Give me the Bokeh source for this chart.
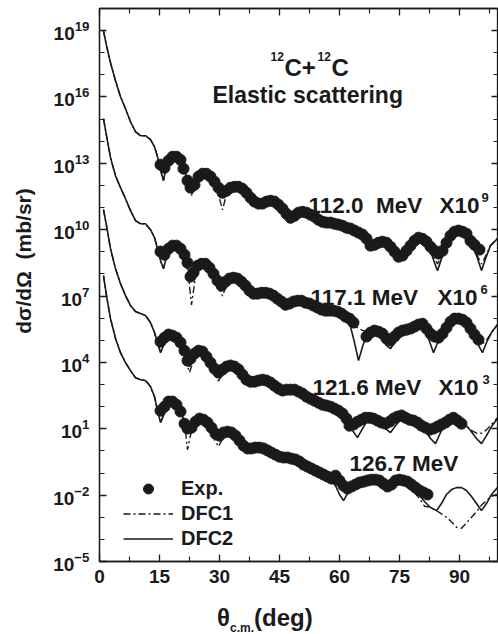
import numpy as np
from bokeh.plotting import figure
from bokeh.layouts import column, row
from bokeh.models import (FixedTicker, LinearAxis, LogAxis, Label, Legend, LegendItem,
                          CustomJSTickFormatter, Range1d, Div)
from bokeh.embed import file_html
from bokeh.resources import INLINE

# ---------------- data (theta in deg, log10 of dsigma/dOmega x scale factor) -------------
energies = ["112.0 MeV", "117.1 MeV", "121.6 MeV", "126.7 MeV"]
scale_labels = ["9", "6", "3", ""]

exp_112 = [(15.25, 12.94), (16.25, 12.8), (17.25, 13.12), (18.25, 13.3), (19.25, 13.3), (20.25, 13.16),
           (21.0, 12.76), (22.0, 12.22), (22.75, 11.9), (23.75, 12.03), (24.75, 12.4), (25.75, 12.53),
           (26.75, 12.53), (27.75, 12.4), (28.75, 12.17), (29.75, 11.9), (30.75, 11.67), (31.75, 11.76),
           (32.75, 11.9), (33.75, 11.94), (34.75, 11.94), (35.75, 11.85), (36.75, 11.67), (37.75, 11.45),
           (38.75, 11.27), (39.75, 11.18), (40.75, 11.18), (41.75, 11.27), (42.75, 11.31), (43.75, 11.27),
           (44.75, 11.13), (45.75, 10.95), (46.75, 10.72), (47.75, 10.54), (48.75, 10.63), (49.75, 10.77),
           (50.75, 10.81), (51.75, 10.77), (52.75, 10.68), (53.75, 10.59), (54.75, 10.45), (55.75, 10.36),
           (56.75, 10.32), (57.75, 10.32), (58.75, 10.27), (59.75, 10.23), (60.75, 10.18), (61.75, 10.09),
           (62.75, 10.05), (63.75, 9.96), (64.75, 9.87), (65.75, 9.78), (66.75, 9.6), (67.75, 9.28),
           (68.75, 9.32), (69.75, 9.41), (70.75, 9.46), (71.75, 9.41), (72.75, 9.23), (73.75, 9.01),
           (74.75, 8.78), (75.75, 8.83), (76.75, 9.05), (77.75, 9.28), (78.75, 9.5), (79.75, 9.64),
           (80.75, 9.59), (81.75, 9.46), (82.75, 9.23), (83.75, 9.05), (84.75, 8.92), (85.75, 9.05),
           (86.75, 9.41), (87.75, 9.73), (88.75, 9.91), (89.75, 9.96), (90.75, 9.91), (91.75, 9.82),
           (92.75, 9.5), (93.75, 9.32), (95.0, 9.1)]

exp_117 = [(15.25, 9.01), (16.25, 8.87), (17.25, 9.14), (18.25, 9.28), (19.25, 9.28), (20.25, 9.14),
           (21.25, 8.87), (22.0, 8.51), (22.75, 7.88), (23.5, 8.06), (24.5, 8.37), (25.5, 8.46),
           (26.5, 8.46), (27.5, 8.28), (28.5, 8.01), (29.5, 7.7), (30.5, 7.47), (31.5, 7.65),
           (32.5, 7.79), (33.5, 7.83), (34.5, 7.79), (35.5, 7.65), (36.5, 7.47), (37.5, 7.25),
           (38.5, 7.11), (39.5, 7.11), (40.5, 7.15), (41.5, 7.15), (42.5, 7.11), (43.5, 7.02),
           (44.5, 6.88), (45.5, 6.75), (46.5, 6.61), (47.5, 6.66), (48.5, 6.75), (49.5, 6.79),
           (50.5, 6.79), (51.5, 6.7), (52.5, 6.66), (53.5, 6.57), (54.5, 6.48), (55.5, 6.39),
           (56.5, 6.34), (57.5, 6.34), (58.5, 6.34), (59.5, 6.3), (60.5, 6.21), (61.5, 6.07),
           (62.5, 5.98), (63.5, 5.8), (66.75, 5.17), (67.75, 5.35), (68.75, 5.44), (69.75, 5.39),
           (70.75, 5.3), (71.75, 5.08), (72.75, 4.99), (73.75, 5.17), (74.75, 5.35), (75.75, 5.44),
           (76.75, 5.48), (77.75, 5.53), (78.75, 5.62), (79.75, 5.71), (80.75, 5.75), (81.75, 5.53),
           (82.75, 5.3), (83.75, 5.17), (84.75, 5.12), (85.75, 5.3), (86.75, 5.57), (87.75, 5.84),
           (88.75, 5.98), (89.75, 5.98), (90.75, 5.93), (91.75, 5.8), (92.75, 5.53), (93.75, 5.26),
           (94.75, 5.03)]

exp_121 = [(15.25, 4.94), (16.25, 5.12), (17.25, 5.26), (18.25, 5.21), (19.25, 5.12), (20.25, 4.9),
           (21.25, 4.53), (22.0, 4.08), (22.75, 4.17), (23.75, 4.4), (24.75, 4.53), (25.75, 4.49),
           (26.75, 4.26), (27.75, 3.99), (28.75, 3.72), (29.75, 3.54), (30.75, 3.68), (31.75, 3.81),
           (32.75, 3.86), (33.75, 3.81), (34.75, 3.68), (35.75, 3.45), (36.75, 3.22), (37.75, 3.13),
           (38.75, 3.13), (39.75, 3.18), (40.75, 3.22), (41.75, 3.18), (42.75, 3.09), (43.75, 2.95),
           (44.75, 2.82), (45.75, 2.73), (46.75, 2.77), (47.75, 2.77), (48.75, 2.77), (49.75, 2.68),
           (50.75, 2.59), (51.75, 2.45), (52.75, 2.36), (53.75, 2.27), (54.75, 2.18), (55.75, 2.09),
           (56.75, 2.05), (57.75, 2.0), (58.75, 1.91), (59.75, 1.82), (60.75, 1.69), (61.75, 1.46),
           (62.5, 1.14), (63.5, 1.19), (64.5, 1.32), (65.5, 1.41), (66.5, 1.5), (67.5, 1.5),
           (68.5, 1.46), (69.5, 1.37), (70.5, 1.28), (71.5, 1.23), (72.5, 1.32), (73.5, 1.46),
           (74.5, 1.55), (75.5, 1.6), (76.5, 1.5), (77.5, 1.41), (78.5, 1.37), (79.5, 1.28),
           (80.5, 1.14), (81.5, 1.05), (82.5, 0.96), (83.5, 1.01), (84.5, 1.1), (85.5, 1.19),
           (86.5, 1.28), (87.5, 1.41), (88.5, 1.5), (89.5, 1.37), (90.5, 1.23)]

exp_126 = [(15.25, 1.82), (16.25, 2.0), (17.25, 2.23), (18.25, 2.23), (19.25, 2.09), (20.25, 1.78),
           (21.25, 1.23), (22.0, 1.01), (23.0, 1.05), (24.0, 1.32), (25.0, 1.46), (26.0, 1.41),
           (27.0, 1.28), (28.0, 1.05), (29.0, 0.78), (30.0, 0.69), (31.0, 0.83), (32.0, 0.87),
           (33.0, 0.83), (34.0, 0.69), (35.0, 0.47), (36.0, 0.24), (37.0, 0.11), (38.0, 0.11),
           (39.0, 0.15), (40.0, 0.15), (41.0, 0.11), (42.0, 0.02), (43.0, -0.08), (44.0, -0.17),
           (45.0, -0.26), (46.0, -0.3), (47.0, -0.3), (48.0, -0.35), (49.0, -0.39), (50.0, -0.48),
           (51.0, -0.62), (52.0, -0.71), (53.0, -0.8), (54.0, -0.89), (55.0, -0.98), (56.0, -1.07),
           (57.0, -1.16), (58.0, -1.25), (59.0, -1.12), (60.0, -1.34), (61.0, -1.57), (62.0, -1.7),
           (63.0, -1.61), (64.0, -1.52), (65.0, -1.43), (66.0, -1.39), (67.0, -1.34), (68.0, -1.3),
           (69.0, -1.3), (70.0, -1.34), (71.0, -1.48), (72.0, -1.61), (73.0, -1.52), (74.0, -1.34),
           (75.0, -1.3), (76.0, -1.34), (77.0, -1.39), (78.0, -1.52), (79.0, -1.66), (80.0, -1.79),
           (81.0, -1.88), (82.0, -1.97)]

# theory curves: angle grid shared by DFC1 and DFC2 for each energy
th_112 = [1.0, 1.75, 2.75, 4.0, 5.25, 6.5, 7.75, 9.0, 10.25, 11.5, 12.75, 13.75, 14.5, 15.25, 16.0, 16.75,
          17.75, 19.0, 20.25, 21.25, 22.25, 23.0, 24.0, 25.25, 26.5, 27.75, 29.0, 30.0, 30.75, 31.75, 33.0,
          34.25, 35.5, 36.75, 38.0, 39.25, 40.75, 42.25, 43.75, 45.25, 46.75, 47.75, 49.25, 50.75, 52.25,
          53.75, 55.25, 56.75, 58.25, 59.75, 61.25, 62.75, 64.25, 65.75, 67.0, 67.75, 69.25, 70.75, 72.25,
          73.75, 75.25, 76.5, 77.75, 79.0, 80.25, 81.5, 82.75, 83.75, 84.5, 85.5, 86.75, 88.0, 89.25, 90.5,
          91.75, 93.0, 94.25, 95.5, 96.5, 97.75, 99.5]
dfc2_112 = [18.99, 18.32, 17.55, 16.73, 16.01, 15.47, 14.88, 14.43, 14.25, 14.25, 14.07, 13.75, 13.3, 12.67,
            12.22, 12.89, 13.26, 13.35, 13.12, 12.67, 12.13, 11.81, 12.22, 12.44, 12.58, 12.49, 12.17, 11.76,
            11.58, 11.76, 11.9, 11.94, 11.9, 11.72, 11.4, 11.18, 11.18, 11.31, 11.27, 11.04, 10.72, 10.5,
            10.68, 10.81, 10.72, 10.54, 10.41, 10.32, 10.27, 10.23, 10.14, 10.05, 9.96, 9.78, 9.6, 9.23,
            9.37, 9.46, 9.37, 9.05, 8.69, 8.96, 9.23, 9.5, 9.64, 9.46, 9.05, 8.51, 8.15, 8.69, 9.41, 9.82,
            9.96, 9.91, 9.73, 9.37, 8.83, 8.15, 8.69, 9.28, 9.6]
dfc1_112 = [18.99, 18.32, 17.55, 16.73, 16.01, 15.47, 14.88, 14.43, 14.25, 14.25, 14.07, 13.75, 13.3, 12.67,
            12.22, 12.89, 13.26, 13.35, 13.12, 12.67, 12.0, 11.55, 12.1, 12.44, 12.58, 12.49, 12.17, 11.4,
            10.9, 11.6, 11.9, 11.94, 11.9, 11.72, 11.4, 11.18, 11.18, 11.31, 11.27, 11.04, 10.72, 10.5,
            10.68, 10.81, 10.72, 10.54, 10.41, 10.32, 10.27, 10.23, 10.14, 10.05, 9.96, 9.78, 9.6, 9.23,
            9.37, 9.46, 9.37, 9.05, 8.69, 8.96, 9.23, 9.5, 9.64, 9.46, 9.05, 8.7, 8.45, 8.8, 9.41, 9.82,
            9.96, 9.91, 9.73, 9.37, 8.9, 8.45, 8.8, 9.28, 9.6]

th_117 = [1.0, 1.75, 2.75, 4.0, 5.25, 6.5, 7.75, 9.0, 10.25, 11.5, 12.75, 13.75, 14.5, 15.25, 16.0, 16.75,
          17.75, 19.0, 20.25, 21.25, 22.25, 23.0, 24.0, 25.25, 26.5, 27.75, 29.0, 30.0, 30.75, 31.75, 33.0,
          34.25, 35.5, 36.75, 38.0, 39.25, 40.75, 42.25, 43.75, 45.25, 46.75, 48.25, 49.75, 51.25, 52.75,
          54.25, 55.75, 57.25, 58.75, 60.25, 61.75, 62.75, 63.75, 64.75, 65.75, 66.75, 68.0, 69.25, 70.5,
          71.75, 72.75, 73.75, 75.25, 76.75, 78.25, 79.75, 81.0, 82.25, 83.5, 84.75, 86.0, 87.25, 88.75,
          90.25, 91.75, 93.25, 94.5, 95.75, 96.75, 98.0, 99.5]
dfc2_117 = [15.02, 14.25, 13.26, 12.44, 11.9, 11.4, 10.86, 10.41, 10.27, 10.27, 10.0, 9.64, 9.14, 8.6, 8.24,
            8.78, 9.14, 9.28, 9.14, 8.74, 8.15, 7.7, 8.15, 8.42, 8.46, 8.24, 7.88, 7.52, 7.38, 7.7, 7.83,
            7.83, 7.7, 7.47, 7.2, 7.06, 7.11, 7.11, 6.97, 6.79, 6.61, 6.7, 6.79, 6.75, 6.66, 6.48, 6.34,
            6.34, 6.3, 6.16, 5.98, 5.62, 4.9, 4.08, 4.71, 5.26, 5.44, 5.35, 5.08, 4.76, 4.62, 4.9, 5.21,
            5.44, 5.57, 5.66, 5.53, 5.08, 4.44, 4.99, 5.44, 5.8, 5.98, 5.89, 5.66, 5.3, 4.85, 4.44, 4.9,
            5.35, 5.71]
dfc1_117 = [15.02, 14.25, 13.26, 12.44, 11.9, 11.4, 10.86, 10.41, 10.27, 10.27, 10.0, 9.64, 9.14, 8.6, 8.24,
            8.78, 9.14, 9.28, 9.14, 8.74, 7.9, 6.6, 7.9, 8.42, 8.46, 8.24, 7.88, 7.3, 7.0, 7.5, 7.83,
            7.83, 7.7, 7.47, 7.2, 7.06, 7.11, 7.11, 6.97, 6.79, 6.61, 6.7, 6.79, 6.75, 6.66, 6.48, 6.34,
            6.34, 6.3, 6.16, 5.98, 5.85, 5.65, 5.55, 5.45, 5.4, 5.44, 5.35, 5.08, 4.95, 4.9, 5.0, 5.21,
            5.44, 5.57, 5.66, 5.53, 5.2, 4.95, 5.1, 5.44, 5.8, 5.98, 5.89, 5.66, 5.3, 5.0, 4.85, 5.0,
            5.35, 5.71]

th_121 = [1.0, 1.75, 2.75, 4.0, 5.25, 6.5, 7.75, 9.0, 10.25, 11.5, 12.75, 13.75, 14.5, 15.25, 16.25, 17.25,
          18.5, 19.75, 20.75, 21.75, 22.5, 23.25, 24.25, 25.5, 26.75, 28.0, 29.0, 29.75, 30.75, 32.0, 33.25,
          34.5, 35.75, 37.0, 38.25, 39.75, 41.25, 42.75, 44.25, 45.75, 47.25, 48.75, 50.25, 51.75, 53.25,
          54.75, 56.25, 57.75, 59.25, 60.75, 62.0, 63.25, 64.5, 65.75, 67.0, 68.5, 70.0, 71.5, 72.75, 74.0,
          75.5, 77.0, 78.5, 80.0, 81.5, 82.75, 84.0, 85.25, 86.75, 88.25, 89.75, 91.25, 92.75, 94.25, 95.5,
          96.75, 98.0, 99.5]
dfc2_121 = [10.91, 10.18, 9.14, 8.24, 7.56, 7.02, 6.57, 6.3, 6.21, 6.12, 5.8, 5.35, 4.9, 4.44, 4.9, 5.17,
            5.26, 5.08, 4.71, 4.17, 3.81, 4.08, 4.44, 4.53, 4.31, 3.95, 3.63, 3.45, 3.63, 3.81, 3.81, 3.72,
            3.45, 3.18, 3.09, 3.18, 3.18, 3.04, 2.86, 2.73, 2.73, 2.77, 2.68, 2.45, 2.27, 2.14, 2.05, 2.0,
            1.91, 1.69, 1.37, 0.92, 0.6, 1.01, 1.37, 1.46, 1.32, 1.01, 0.83, 1.14, 1.46, 1.46, 1.37, 1.19,
            0.92, 0.56, 0.33, 0.83, 1.28, 1.46, 1.41, 1.23, 0.92, 0.56, 0.33, 0.69, 1.1, 1.46]
dfc1_121 = [10.91, 10.18, 9.14, 8.24, 7.56, 7.02, 6.57, 6.3, 6.21, 6.12, 5.8, 5.35, 4.9, 4.44, 4.9, 5.17,
            5.26, 5.08, 4.71, 4.0, 3.55, 3.95, 4.44, 4.53, 4.31, 3.95, 3.5, 3.15, 3.5, 3.81, 3.81, 3.72,
            3.45, 3.18, 3.09, 3.18, 3.18, 3.04, 2.86, 2.73, 2.73, 2.77, 2.68, 2.45, 2.27, 2.14, 2.05, 2.0,
            1.91, 1.69, 1.5, 1.35, 1.3, 1.35, 1.45, 1.46, 1.32, 1.15, 1.1, 1.2, 1.46, 1.46, 1.37, 1.19,
            0.92, 0.85, 0.8, 0.95, 1.28, 1.46, 1.41, 1.23, 0.95, 0.8, 0.8, 0.95, 1.2, 1.5]

th_126 = [1.0, 1.75, 2.75, 4.0, 5.25, 6.5, 7.75, 9.0, 10.25, 11.5, 12.75, 13.75, 14.5, 15.25, 16.0, 16.75,
          17.75, 19.0, 20.25, 21.25, 22.0, 22.75, 23.75, 25.0, 26.25, 27.5, 28.75, 29.75, 30.75, 32.0, 33.25,
          34.5, 35.75, 37.0, 38.25, 39.75, 41.25, 42.75, 44.25, 45.75, 47.25, 48.75, 50.25, 51.75, 53.25,
          54.75, 56.25, 57.75, 59.0, 60.0, 61.0, 62.0, 63.25, 64.75, 66.25, 67.75, 69.25, 70.75, 72.25,
          73.75, 75.25, 76.75, 78.25, 79.75, 81.25, 82.75, 84.25, 85.5, 86.75, 88.0, 89.25, 90.5, 91.75,
          93.0, 94.25, 95.5, 96.75, 98.0, 99.5]
dfc2_126 = [7.92, 7.02, 5.98, 5.08, 4.44, 3.99, 3.63, 3.31, 3.22, 3.18, 2.91, 2.45, 1.82, 1.28, 1.6, 2.05,
            2.27, 2.18, 1.82, 1.28, 0.83, 1.01, 1.37, 1.5, 1.37, 1.05, 0.69, 0.51, 0.69, 0.83, 0.78, 0.6,
            0.38, 0.11, 0.06, 0.11, 0.06, -0.08, -0.21, -0.3, -0.35, -0.44, -0.57, -0.75, -0.89, -1.03,
            -1.16, -1.3, -1.57, -1.97, -2.25, -1.93, -1.61, -1.43, -1.34, -1.3, -1.34, -1.39, -1.52, -1.52,
            -1.48, -1.52, -1.7, -1.97, -2.29, -2.56, -2.7, -2.38, -1.97, -1.75, -1.66, -1.66, -1.79, -2.06,
            -2.38, -2.7, -2.38, -1.97, -1.66]
dfc1_126 = [7.92, 7.02, 5.98, 5.08, 4.44, 3.99, 3.63, 3.31, 3.22, 3.18, 2.91, 2.45, 1.82, 1.28, 1.6, 2.05,
            2.27, 2.18, 1.82, 1.28, 0.05, 0.7, 1.3, 1.5, 1.37, 1.05, 0.5, 0.2, 0.55, 0.83, 0.78, 0.6,
            0.38, 0.11, 0.06, 0.11, 0.06, -0.08, -0.21, -0.3, -0.35, -0.44, -0.57, -0.75, -0.89, -1.03,
            -1.16, -1.3, -1.45, -1.6, -1.7, -1.7, -1.6, -1.43, -1.34, -1.3, -1.34, -1.39, -1.52, -1.52,
            -1.48, -1.52, -1.75, -2.1, -2.5, -2.55, -2.7, -2.85, -3.0, -3.2, -3.45, -3.5, -3.25, -3.0,
            -2.75, -2.45, -2.25, -2.05, -1.95]

x_major_ticks = [0, 15, 30, 45, 60, 75, 90]
x_minor_ticks = [7.5, 22.5, 37.5, 52.5, 67.5, 82.5, 97.5]
y_major_ticks = [1e-5, 1e-2, 1e1, 1e4, 1e7, 1e10, 1e13, 1e16, 1e19]
y_minor_ticks = [1e-4, 1e-3, 1e-1, 1e0, 1e2, 1e3, 1e5, 1e6, 1e8, 1e9, 1e11, 1e12, 1e14, 1e15,
                 1e17, 1e18, 1e20]

# ---------------- figure ----------------
FONT = "Liberation Sans"
INK = "#1a1a1a"
NB = "\u00a0"

p = figure(width=453, height=600, output_backend="svg", toolbar_location=None,
           x_range=Range1d(0, 99.75), y_range=Range1d(1e-5, 1e20), y_axis_type="log",
           min_border_left=54, min_border_right=0, min_border_top=8, min_border_bottom=39)
p.background_fill_color = "white"
p.border_fill_color = "white"
p.xgrid.visible = False
p.ygrid.visible = False
p.outline_line_color = INK
p.outline_line_width = 1.3

xt = FixedTicker(ticks=x_major_ticks, minor_ticks=x_minor_ticks)
yt = FixedTicker(ticks=y_major_ticks, minor_ticks=y_minor_ticks)

def style_axis(ax):
    ax.axis_line_color = INK
    ax.axis_line_width = 1.3
    ax.major_tick_line_color = INK
    ax.minor_tick_line_color = INK
    ax.major_tick_line_width = 1.3
    ax.minor_tick_line_width = 1.1
    ax.major_tick_in = 7
    ax.major_tick_out = 0
    ax.minor_tick_in = 5
    ax.minor_tick_out = 0
    ax.major_label_text_font = FONT
    ax.major_label_text_font_style = "bold"
    ax.major_label_text_color = INK

xa = p.below[0]
ya = p.left[0]
xa.ticker = xt
ya.ticker = yt
style_axis(xa)
style_axis(ya)
xa.major_label_text_font_size = "19px"
ya.major_label_text_font_size = "19px"
xa.major_label_standoff = 8
ya.major_label_standoff = 10

top = LinearAxis(ticker=xt, formatter=CustomJSTickFormatter(code="return ''"))
right = LogAxis(ticker=yt, formatter=CustomJSTickFormatter(code="return ''"))
for ax in (top, right):
    style_axis(ax)
    ax.major_label_text_font_size = "1px"
    ax.major_label_standoff = 0
p.add_layout(top, "above")
p.add_layout(right, "right")

# ---------------- curves and data ----------------
theory = [(th_112, dfc1_112, dfc2_112), (th_117, dfc1_117, dfc2_117),
          (th_121, dfc1_121, dfc2_121), (th_126, dfc1_126, dfc2_126)]
exps = [exp_112, exp_117, exp_121, exp_126]

r_d1 = r_d2 = r_exp = None
for (th, d1, d2) in theory:
    th = np.array(th)
    a = p.line(th, 10 ** np.array(d1), line_color=INK, line_width=1.4, line_dash="7 3 2 3")
    b = p.line(th, 10 ** np.array(d2), line_color=INK, line_width=1.6)
    r_d1 = r_d1 or a
    r_d2 = r_d2 or b
for ex in exps:
    arr = np.array(ex)
    s = p.scatter(arr[:, 0], 10 ** arr[:, 1], marker="circle", size=11,
                  fill_color=INK, line_color=INK)
    r_exp = r_exp or s

legend = Legend(items=[LegendItem(label="Exp.", renderers=[r_exp]),
                       LegendItem(label="DFC1", renderers=[r_d1]),
                       LegendItem(label="DFC2", renderers=[r_d2])],
                location=(24, 10), glyph_width=50, glyph_height=25, label_height=25,
                spacing=0, padding=0, margin=0, label_standoff=8,
                label_text_font=FONT, label_text_font_style="bold", label_text_font_size="20px",
                label_text_color=INK, border_line_color=None, background_fill_alpha=0)
p.add_layout(legend)

# ---------------- texts inside the frame ----------------
def lab(x, lg, text, size):
    p.add_layout(Label(x=x, y=10 ** lg, text=text, text_font=FONT, text_font_style="bold",
                       text_font_size=size, text_color=INK, text_baseline="alphabetic",
                       text_align="left"))

# title block
lab(42.75, 17.82, "12", "12px")
lab(46.25, 17.32, "C+", "24px")
lab(54.5, 17.82, "12", "12px")
lab(58.0, 17.32, "C", "24px")
lab(28.25, 16.1, "Elastic scattering", "23px")

# energy labels
lab(52.25, 11.09, "112.0" + NB * 2 + "MeV", "22.5px")
lab(85.0, 11.09, "X10", "22.5px")
lab(95.5, 11.45, scale_labels[0], "13px")
lab(52.75, 6.93, energies[1], "22.5px")
lab(84.5, 6.93, "X10", "22.5px")
lab(95.25, 7.29, scale_labels[1], "13px")
lab(53.25, 2.86, energies[2], "22.5px")
lab(84.75, 2.86, "X10", "22.5px")
lab(95.75, 3.22, scale_labels[2], "13px")
lab(62.5, -0.57, energies[3], "22.5px")

# ---------------- axis titles (outside the plot frame) ----------------
ytitle = Div(text=('<div style="position:absolute;left:24px;top:261px;'
                   'transform:translate(-50%,-50%) rotate(-90deg);white-space:nowrap;'
                   "font-family:'Liberation Sans';font-weight:bold;font-size:21px;"
                   'line-height:24px;color:#1a1a1a">dσ/dΩ&nbsp;&nbsp;(mb/sr)</div>'),
             width=45, height=634, margin=(0, 0, 0, 0))

xtitle = Div(text=('θ<sub style="font-size:12px;vertical-align:-6px">c.m.</sub>(deg)'),
             width=453, height=34, margin=(0, 0, 0, 0),
             styles={"font-family": "Liberation Sans", "font-weight": "bold", "font-size": "24px",
                     "color": INK, "padding-left": "172px", "padding-top": "3px",
                     "line-height": "30px", "box-sizing": "border-box"})

layout = row(ytitle, column(p, xtitle, spacing=0), spacing=0)
open("out.html", "w").write(file_html(layout, INLINE))
